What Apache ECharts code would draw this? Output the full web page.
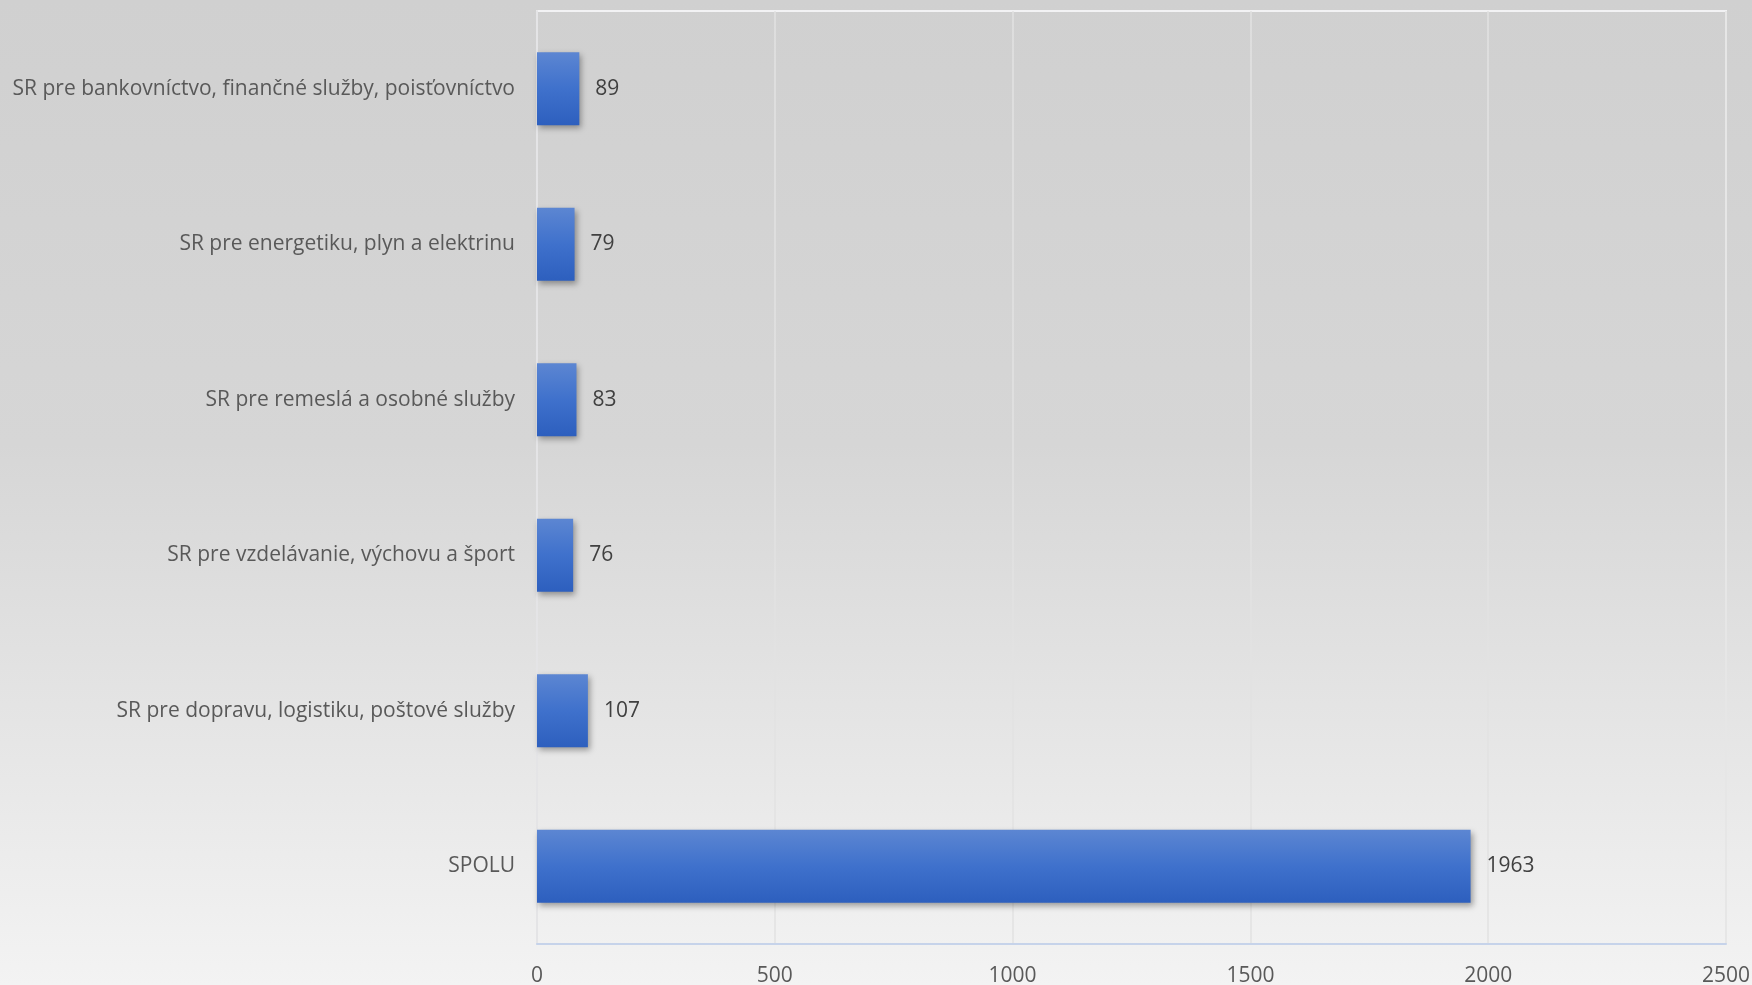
<!DOCTYPE html>
<html>
<head>
<meta charset="utf-8">
<script src="https://cdn.jsdelivr.net/npm/echarts@6/dist/echarts.min.js"></script>
<style>
html,body{margin:0;padding:0;width:1752px;height:985px;overflow:hidden;}
body{background:linear-gradient(to bottom,#d0d0d0 0%,#d6d6d6 45%,#f3f3f3 100%);}
#c{width:1752px;height:985px;}
</style>
</head>
<body>
<div id="c"></div>
<script>
const categories = [
  "SPOLU",
  "SR pre dopravu, logistiku, poštové služby",
  "SR pre vzdelávanie, výchovu a šport",
  "SR pre remeslá a osobné služby",
  "SR pre energetiku, plyn a elektrinu",
  "SR pre bankovníctvo, finančné služby, poisťovníctvo"
];
const values = [1963, 107, 76, 83, 79, 89];
const xTicks = [0, 500, 1000, 1500, 2000, 2500];

const chart = echarts.init(document.getElementById('c'), null, {renderer:'canvas'});
chart.setOption({
  backgroundColor: 'transparent',
  animation: false,
  grid: {left: 537, right: 26, top: 11, bottom: 41, show: true, borderColor: '#f2f2f4', borderWidth: 2, backgroundColor: 'transparent', outerBoundsMode: 'none', containLabel: false},
  xAxis: {
    type: 'value', min: xTicks[0], max: xTicks[xTicks.length-1], interval: 500,
    axisLine: {show: true, lineStyle: {color: '#c6d3ea', width: 2}},
    axisTick: {show: false},
    splitLine: {show: true, lineStyle: {color: '#e2e2e2', width: 1.5}},
    axisLabel: {color: '#595959', fontSize: 21, fontFamily: 'Open Sans', margin: 22, formatter: v => String(v)}
  },
  yAxis: {
    type: 'category', data: categories,
    axisLine: {show: true, lineStyle: {color: '#e4e4e6', width: 2}},
    axisTick: {show: false},
    axisLabel: {color: '#595959', fontSize: 21, fontFamily: 'Open Sans', margin: 22}
  },
  series: [{
    type: 'bar', data: values, barWidth: 73,
    itemStyle: {
      color: new echarts.graphic.LinearGradient(0,0,0,1,[{offset:0,color:'#5c86d2'},{offset:0.5,color:'#3f71cc'},{offset:1,color:'#2d5fbe'}]),
      shadowColor: 'rgba(0,0,0,0.35)', shadowBlur: 6, shadowOffsetX: 2, shadowOffsetY: 3
    },
    label: {show: true, position: 'right', distance: 16, color: '#404040', fontSize: 21, fontFamily: 'Open Sans'}
  }]
});
</script>
</body>
</html>
